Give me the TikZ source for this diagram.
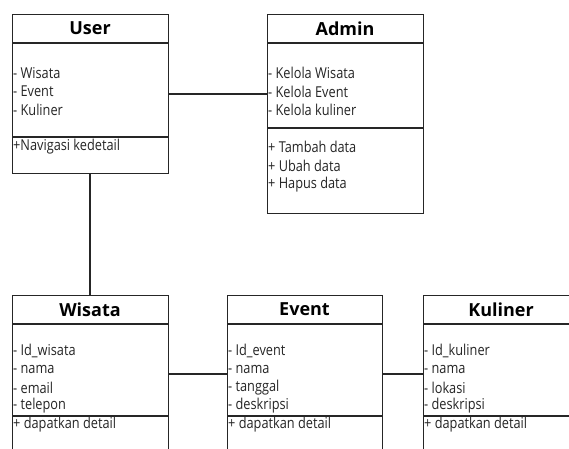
\documentclass[tikz,border=0pt]{standalone}
\usepackage{fontspec}
\setmainfont{Open Sans}
\newfontfamily\narrowfont{Open Sans}[FakeStretch=0.85]
\begin{document}
\begin{tikzpicture}[x=1pt,y=-1pt,
  box/.style={draw=black!85,line width=1.4pt,inner sep=0pt,anchor=north west,minimum width=156pt},
  sep/.style={draw=black!85,line width=1.4pt},
  conn/.style={draw=black!85,line width=1.2pt},
  hdr/.style={font=\fontsize{18}{20}\selectfont\bfseries,inner sep=0pt},
  txt/.style={font=\narrowfont\fontsize{15}{17}\selectfont,inner sep=0pt,anchor=west,text=black!85}]
\clip (0,0) rectangle (569,448);
\fill[white] (0,0) rectangle (569,448);
% User
\node[box,minimum height=159pt] (user) at (12,14) {};
\draw[sep] (12,43) -- (168,43);
\draw[sep] (12,137) -- (168,137);
\node[hdr] (userh) at (90,28.5) {User};
\node[txt] (u1) at (13,73) {- Wisata};
\node[txt] (u2) at (13,91.5) {- Event};
\node[txt] (u3) at (13,110) {- Kuliner};
\node[txt] (u4) at (13,147) {+Navigasi kedetail};
% Admin
\node[box,minimum height=199pt] (admin) at (267,14) {};
\draw[sep] (267,43) -- (423,43);
\draw[sep] (267,128) -- (423,128);
\node[hdr] (adminh) at (345,28.5) {Admin};
\node[txt] (a1) at (268,73) {- Kelola Wisata};
\node[txt] (a2) at (268,91.5) {- Kelola Event};
\node[txt] (a3) at (268,110) {- Kelola kuliner};
\node[txt] (a4) at (268,147) {+ Tambah data};
\node[txt] (a5) at (268,166) {+ Ubah data};
\node[txt] (a6) at (268,185) {+ Hapus data};
% Wisata
\node[box,minimum height=180pt] (wisata) at (12,295) {};
\draw[sep] (12,324) -- (168,324);
\draw[sep] (12,416) -- (168,416);
\node[hdr] (wisatah) at (90,309.5) {Wisata};
\node[txt] (w1) at (13,351) {- Id\_wisata};
\node[txt] (w2) at (13,369.5) {- nama};
\node[txt] (w3) at (13,388) {- email};
\node[txt] (w4) at (13,406) {- telepon};
\node[txt] (w5) at (13,425) {+ dapatkan detail};
% Event
\node[box,minimum width=155pt,minimum height=180pt] (event) at (227,295) {};
\draw[sep] (227,324) -- (382,324);
\draw[sep] (227,416) -- (382,416);
\node[hdr] (eventh) at (304.5,309.5) {Event};
\node[txt] (e1) at (228,351) {- Id\_event};
\node[txt] (e2) at (228,369.5) {- nama};
\node[txt] (e3) at (228,388) {- tanggal};
\node[txt] (e4) at (228,406) {- deskripsi};
\node[txt] (e5) at (228,425) {+ dapatkan detail};
% Kuliner
\node[box,minimum height=180pt] (kuliner) at (423,295) {};
\draw[sep] (423,324) -- (579,324);
\draw[sep] (423,416) -- (579,416);
\node[hdr] (kulinerh) at (501,309.5) {Kuliner};
\node[txt] (k1) at (424,351) {- Id\_kuliner};
\node[txt] (k2) at (424,369.5) {- nama};
\node[txt] (k3) at (424,388) {- lokasi};
\node[txt] (k4) at (424,406) {- deskripsi};
\node[txt] (k5) at (424,425) {+ dapatkan detail};
% connectors
\coordinate (c1) at (0,94);
\coordinate (c2) at (90,0);
\coordinate (c3) at (0,374);
\draw[conn] (user.east |- c1) -- (admin.west |- c1);
\draw[conn] (user.south -| c2) -- (wisata.north -| c2);
\draw[conn] (wisata.east |- c3) -- (event.west |- c3);
\draw[conn] (event.east |- c3) -- (kuliner.west |- c3);
\end{tikzpicture}
\end{document}
